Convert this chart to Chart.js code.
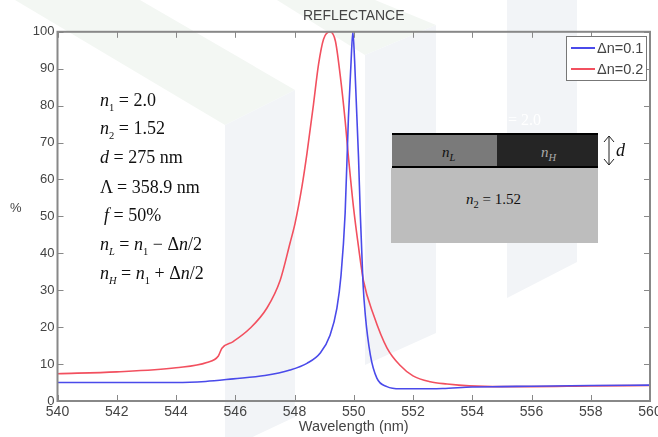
<!DOCTYPE html>
<html>
<head>
<meta charset="utf-8">
<script src="https://cdn.jsdelivr.net/npm/chart.js@4"></script>
<style>
  body { margin: 0; background: #fff; overflow: hidden; }
  #wrap { position: relative; width: 658px; height: 437px; overflow: hidden; }
  #wrap svg { position: absolute; left: 0; top: 0; }
  #chart { position: absolute; left: 0; top: 0; }
  .eq { position: absolute; font: 18px "Liberation Serif", serif; color: #111; white-space: nowrap; line-height: 20px; }
  .eq i sub, .eq sub { font-size: 10.5px; line-height: 0; }
  .box { position: absolute; }
  #legend { position: absolute; left: 566px; top: 36px; width: 79px; height: 43px; border: 1px solid #777; background: #fff;
            font: 14.5px "Liberation Sans", sans-serif; color: #444; }
  #legend div { position: absolute; left: 30px; white-space: nowrap; }
  #legend span { position: absolute; left: 4px; width: 24px; height: 2px; }
  #unit { position: absolute; left: 10px; top: 200px; font: 13px "Liberation Sans", sans-serif; color: #444; }
</style>
</head>
<body>
<div id="wrap">
  <svg width="658" height="437">
    <polygon points="15,0 140,0 295,90 225,125" fill="#f3f7f3"/>
    <polygon points="225,125 295,90 295,417 225,450" fill="#f2f4f7"/>
    <polygon points="277,0 375,0 436,25 365,55" fill="#f3f7f3"/>
    <polygon points="365,55 436,25 436,333 365,365" fill="#f2f4f7"/>
    <polygon points="507,0 577,0 577,262 507,298" fill="#f2f4f7"/>
  </svg>
  <canvas id="chart" width="658" height="437"></canvas>

  <div class="eq" style="left:100px;top:90px"><i>n</i><sub>1</sub> = 2.0</div>
  <div class="eq" style="left:100px;top:118px"><i>n</i><sub>2</sub> = 1.52</div>
  <div class="eq" style="left:100px;top:147px"><i>d</i> = 275 nm</div>
  <div class="eq" style="left:100px;top:177px">&Lambda; = 358.9 nm</div>
  <div class="eq" style="left:104px;top:205px"><i>f</i> = 50%</div>
  <div class="eq" style="left:100px;top:234px"><i>n<sub>L</sub></i> = <i>n</i><sub>1</sub> &minus; &Delta;<i>n</i>/2</div>
  <div class="eq" style="left:100px;top:263px"><i>n<sub>H</sub></i> = <i>n</i><sub>1</sub> + &Delta;<i>n</i>/2</div>

  <div class="eq" style="left:508px;top:110px;font-size:16px;color:#fff">= 2.0</div>
  <div class="box" style="left:392px;top:133px;width:206px;height:35px;background:#000"></div>
  <div class="box" style="left:392px;top:135px;width:105px;height:31px;background:#7a7a7a"></div>
  <div class="box" style="left:497px;top:135px;width:101px;height:31px;background:#252525"></div>
  <div class="box" style="left:391px;top:168px;width:207px;height:75px;background:#bdbdbd"></div>
  <div class="eq" style="left:442px;top:142px;font-size:15px"><i>n<sub>L</sub></i></div>
  <div class="eq" style="left:541px;top:142px;font-size:15px;color:#aaa"><i>n<sub>H</sub></i></div>
  <div class="eq" style="left:466px;top:189px;font-size:15px"><i>n</i><sub>2</sub> = 1.52</div>
  <svg width="658" height="437" style="pointer-events:none">
    <path d="M609 136V165M604 142L609 136L614 142M604 159L609 165L614 159" fill="none" stroke="#222" stroke-width="1"/>
  </svg>
  <div class="eq" style="left:616px;top:140px"><i>d</i></div>

  <div id="legend"></div>
  <div id="unit">%</div>
</div>

<script>
var chartTitle = "REFLECTANCE";
var xTitle = "Wavelength (nm)";
var yTitle = "%";
var seriesNames = ["\u0394n=0.1", "\u0394n=0.2"];
var seriesColors = ["#4a4aea", "#f2505f"];

var blueX = [540, 542, 544, 545, 545.93, 547, 547.85, 548.42, 548.87, 549.2, 549.43, 549.57, 549.71, 549.82, 549.9, 549.97, 550.03, 550.16, 550.22, 550.31, 550.39, 550.56, 550.78, 551.12, 551.57, 552, 553, 554, 555, 556, 558, 560];
var blueY = [5, 5, 5, 5.3, 6, 6.9, 8.4, 10.2, 13, 17.8, 25.1, 34, 51, 76.7, 90.2, 100, 92, 66.2, 51, 32.3, 23.3, 12.5, 6.2, 3.9, 3.3, 3.3, 3.4, 3.8, 3.9, 4, 4.2, 4.3];

var redX = [540, 542, 544, 545.04, 545.43, 545.55, 545.93, 546.5, 547.07, 547.52, 547.85, 548.02, 548.25, 548.42, 548.64, 548.81, 548.98, 549.2, 549.38, 549.54, 549.71, 549.81, 549.99, 550.16, 550.33, 550.67, 551.12, 551.57, 552, 552.58, 553.15, 553.9, 555, 556, 558, 560];
var redY = [7.4, 7.9, 9, 10.4, 12.2, 14.3, 16.1, 19.7, 25.2, 32.8, 42.8, 48.2, 58, 67, 80.3, 91.1, 98, 100, 97.5, 88.4, 75.9, 67, 52.6, 41.8, 32.5, 23.3, 14.4, 9.6, 6.8, 5.2, 4.6, 4.1, 3.9, 3.9, 4.1, 4.2];

function toPoints(xs, ys) {
  return xs.map(function (x, i) { return { x: x, y: ys[i] }; });
}

// tick marks point inward on all four sides, plus the grey box
var frame = {
  id: "frame",
  afterDatasetsDraw: function (chart) {
    var c = chart.ctx, a = chart.chartArea, sx = chart.scales.x, sy = chart.scales.y;
    c.save();
    c.strokeStyle = "#888";
    c.lineWidth = 1;
    c.beginPath();
    sx.ticks.forEach(function (t) {
      var px = Math.round(sx.getPixelForValue(t.value)) + 0.5;
      c.moveTo(px, a.bottom); c.lineTo(px, a.bottom - 6);
      c.moveTo(px, a.top); c.lineTo(px, a.top + 6);
    });
    sy.ticks.forEach(function (t) {
      var py = Math.round(sy.getPixelForValue(t.value)) + 0.5;
      c.moveTo(a.left, py); c.lineTo(a.left + 6, py);
      c.moveTo(a.right, py); c.lineTo(a.right - 6, py);
    });
    c.stroke();
    c.lineWidth = 2;
    c.strokeRect(a.left, a.top, a.right - a.left, a.bottom - a.top);
    c.restore();
  }
};

new Chart(document.getElementById("chart"), {
  type: "line",
  plugins: [frame],
  data: {
    datasets: [
      { label: seriesNames[0], data: toPoints(blueX, blueY), borderColor: seriesColors[0], borderWidth: 1.6, pointRadius: 0, cubicInterpolationMode: "monotone" },
      { label: seriesNames[1], data: toPoints(redX, redY), borderColor: seriesColors[1], borderWidth: 1.6, pointRadius: 0, cubicInterpolationMode: "monotone" }
    ]
  },
  options: {
    responsive: false,
    animation: false,
    layout: { padding: { right: 8 } },
    plugins: {
      legend: { display: false },
      tooltip: { enabled: false },
      title: {
        display: true,
        text: chartTitle,
        fullSize: false,
        color: "#444",
        font: { family: "Liberation Sans", size: 14, weight: "normal" },
        padding: { top: 8, bottom: 7 }
      }
    },
    scales: {
      x: {
        type: "linear",
        min: 540,
        max: 560,
        afterFit: function (s) { s.height = 36; s.paddingLeft = 0; s.paddingRight = 0; },
        grid: { display: false, drawTicks: false },
        border: { display: false },
        title: { display: true, text: xTitle, color: "#444", font: { family: "Liberation Sans", size: 14.5 }, padding: { top: 0, bottom: 1 } },
        ticks: { stepSize: 2, maxRotation: 0, autoSkip: false, padding: 3, color: "#444", font: { family: "Liberation Sans", size: 14 } }
      },
      y: {
        min: 0,
        max: 100,
        afterFit: function (s) { s.width = 57.5; },
        grid: { display: false, drawTicks: false },
        border: { display: false },
        ticks: { stepSize: 10, padding: 3, color: "#444", font: { family: "Liberation Sans", size: 13 } }
      }
    }
  }
});

// legend box, in the top right corner of the plot
var legendBox = document.getElementById("legend");
seriesNames.forEach(function (name, i) {
  var row = document.createElement("div");
  row.textContent = name;
  row.style.top = (3 + i * 21) + "px";
  legendBox.appendChild(row);
  var line = document.createElement("span");
  line.style.background = seriesColors[i];
  line.style.top = (10 + i * 21) + "px";
  legendBox.appendChild(line);
});
document.getElementById("unit").textContent = yTitle;
</script>
</body>
</html>
